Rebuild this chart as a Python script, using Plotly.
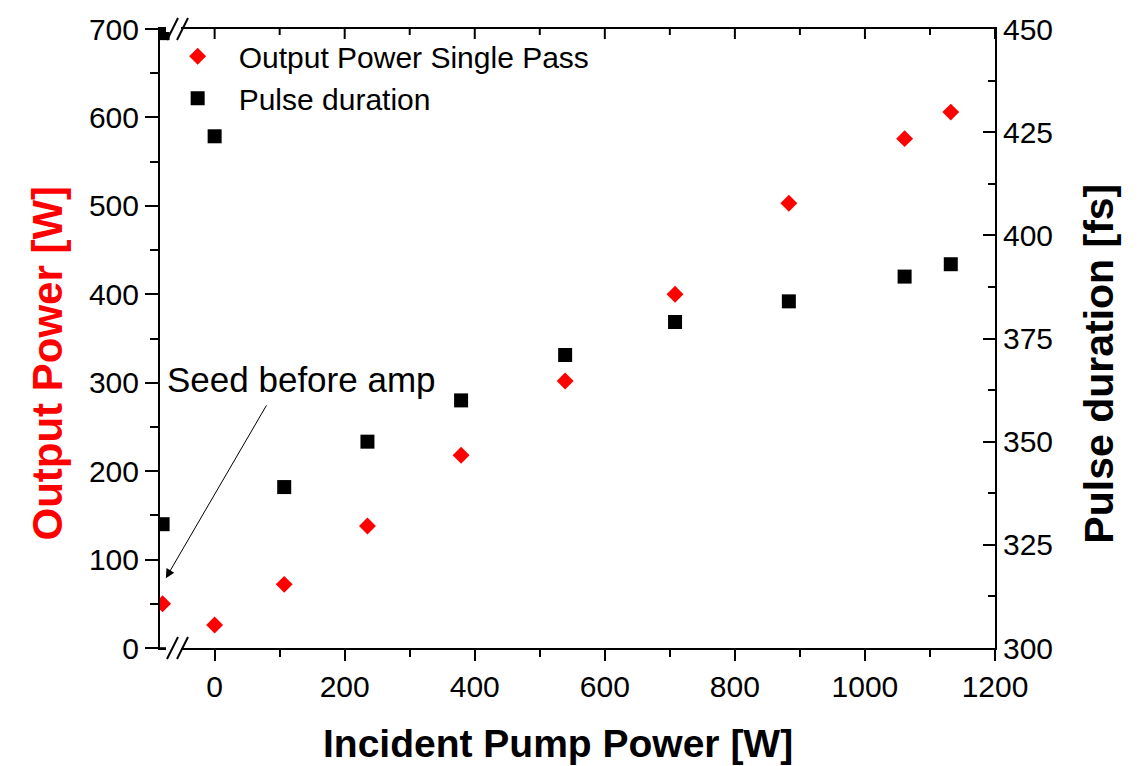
import plotly.graph_objects as go

# ---- data ----
pump_power = [-80, 0, 107, 235, 379, 539, 708, 883, 1061, 1132]
output_power = [50, 26, 72, 138, 218, 302, 400, 503, 576, 606]

pulse_pump = [-80, -80, -80, 0, 107, 235, 379, 539, 708, 883, 1061, 1132]
pulse_duration = [449, 330, 298.5, 424, 339, 350, 360, 371, 379, 384, 390, 393]

x_ticks = [0, 200, 400, 600, 800, 1000, 1200]
y_left_ticks = [0, 100, 200, 300, 400, 500, 600, 700]
y_right_ticks = [300, 325, 350, 375, 400, 425, 450]

FONT = "Liberation Sans, Arial, sans-serif"
X_RANGE = [-84, 1200]

fig = go.Figure()
fig.add_trace(go.Scatter(
    x=pump_power, y=output_power, mode="markers",
    name="Output Power Single Pass",
    marker=dict(symbol="diamond", size=13, color="#ff0000", line=dict(width=0)),
    xaxis="x", yaxis="y",
))
fig.add_trace(go.Scatter(
    x=pulse_pump, y=pulse_duration, mode="markers",
    name="Pulse duration",
    marker=dict(symbol="square", size=14, color="#000000", line=dict(width=0)),
    xaxis="x", yaxis="y2",
))

axis_common = dict(showgrid=False, zeroline=False, showline=True,
                   linecolor="black", linewidth=2, tickcolor="black",
                   tickwidth=2, tickfont=dict(family=FONT, size=30, color="black"))

fig.update_layout(
    width=1142, height=766,
    margin=dict(l=160, r=147, t=26, b=118),
    paper_bgcolor="white", plot_bgcolor="white",
    font=dict(family=FONT, color="black"),
    showlegend=True,
    legend=dict(x=-0.004, y=0.998, xanchor="left", yanchor="top",
                bgcolor="rgba(0,0,0,0)", borderwidth=0, itemwidth=72,
                font=dict(family=FONT, size=30, color="black"),
                tracegroupgap=0, itemsizing="trace"),
    xaxis=dict(range=X_RANGE, tickvals=x_ticks, ticks="outside", ticklen=11,
               mirror=True,
               minor=dict(dtick=100, tick0=0, ticks="outside", ticklen=7,
                          tickwidth=2, tickcolor="black"),
               **axis_common),
    yaxis=dict(range=[0, 700], tickvals=y_left_ticks, ticks="outside", ticklen=13,
               minor=dict(dtick=50, tick0=0, ticks="outside", ticklen=8,
                          tickwidth=2, tickcolor="black"),
               **axis_common),
    yaxis2=dict(range=[300, 450], tickvals=y_right_ticks, overlaying="y",
                side="right", anchor="x", ticks="inside", ticklen=12,
                minor=dict(dtick=12.5, tick0=300, ticks="inside", ticklen=7,
                           tickwidth=2, tickcolor="black"),
                **axis_common),
)

# inward tick marks on the top edge, at the x-axis tick values (major + minor)
for i, xv in enumerate(range(0, 1201, 100)):
    major = xv in x_ticks
    fig.add_shape(type="line", xref="x", yref="paper", ysizemode="pixel", yanchor=1,
                  x0=xv, x1=xv, y0=0, y1=-(10 if major else 6),
                  line=dict(color="black", width=2), layer="above")

# axis titles as annotations (placed like the reference)
fig.add_annotation(text="<b>Output Power [W]</b>", xref="paper", yref="paper",
                   x=-0.135, y=0.46, textangle=-90, showarrow=False,
                   font=dict(family=FONT, size=42, color="#ff0000"),
                   xanchor="center", yanchor="middle")
fig.add_annotation(text="<b>Pulse duration [fs]</b>", xref="paper", yref="paper",
                   x=1.125, y=0.46, textangle=-90, showarrow=False,
                   font=dict(family=FONT, size=41, color="black"),
                   xanchor="center", yanchor="middle")
fig.add_annotation(text="<b>Incident Pump Power [W]</b>", xref="paper", yref="paper",
                   x=0.477, y=-0.155, showarrow=False,
                   font=dict(family=FONT, size=39, color="black"),
                   xanchor="center", yanchor="middle")

# "Seed before amp" label and arrow
fig.add_annotation(text="Seed before amp", x=-77, y=304, xref="x", yref="y",
                   showarrow=False, xanchor="left", yanchor="middle",
                   font=dict(family=FONT, size=35, color="black"))
fig.add_annotation(text="", x=-75, y=79, xref="x", yref="y",
                   ax=81, ay=276, axref="x", ayref="y",
                   showarrow=True, arrowhead=2, arrowsize=1.8, arrowwidth=1,
                   arrowcolor="black")

# axis break marks ("//") at the top-left and bottom-left
for yv in (0, 1):
    fig.add_shape(type="rect", xref="x", yref="paper", xsizemode="pixel", ysizemode="pixel",
                  xanchor=X_RANGE[0], yanchor=yv, x0=6, x1=21, y0=-3, y1=3,
                  fillcolor="white", line=dict(width=0), layer="above")
    for off in (7, 17):
        fig.add_shape(type="line", xref="x", yref="paper", xsizemode="pixel", ysizemode="pixel",
                      xanchor=X_RANGE[0], yanchor=yv, x0=off, x1=off + 11, y0=-11, y1=11,
                      line=dict(color="black", width=2), layer="above")

fig.write_html("out.html")
